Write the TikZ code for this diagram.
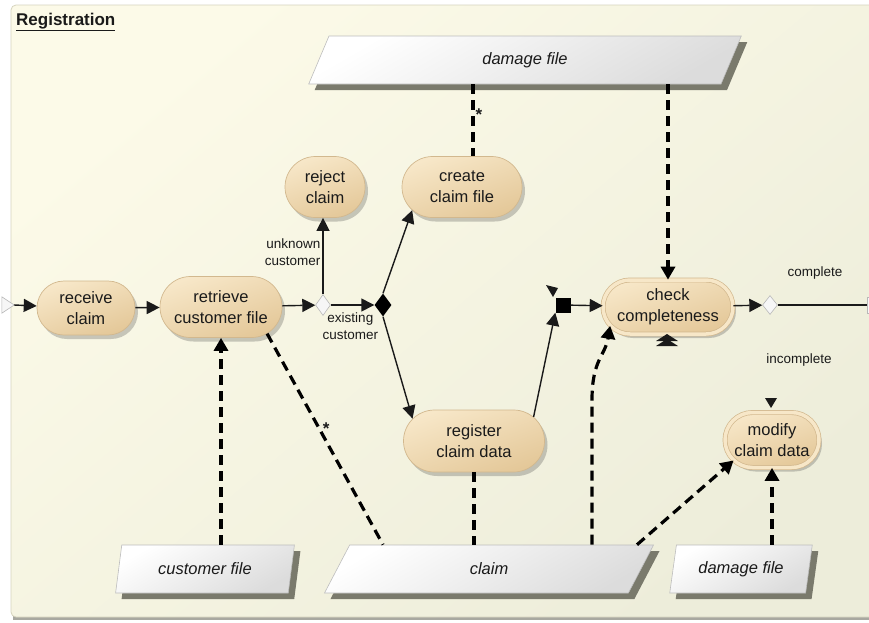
\documentclass[tikz,border=0pt]{standalone}
\usepackage{fontspec}
\setmainfont{Liberation Sans}
\usetikzlibrary{arrows.meta,shapes.geometric,shapes.misc,shadows,calc}

\definecolor{bgA}{HTML}{FCFAE8}
\definecolor{bgB}{HTML}{EDEDDA}
\definecolor{frameline}{HTML}{D6D4BE}
\definecolor{frameshadow}{HTML}{A8A8A0}
\definecolor{actA}{HTML}{F7E7C8}
\definecolor{actB}{HTML}{E4C899}
\definecolor{actline}{HTML}{D2B88E}
\definecolor{dataB}{HTML}{DCDCDC}
\definecolor{dataline}{HTML}{BDBDBD}
\definecolor{datashadow}{HTML}{7A7A6C}
\definecolor{ink}{HTML}{1A1A1A}
\definecolor{gateline}{HTML}{B8B8B8}
\definecolor{gatefill}{HTML}{F6F6F6}

\begin{document}
\begin{tikzpicture}[x=1pt,y=-1pt,
  act/.style={rounded rectangle, draw=actline, line width=0.7pt,
    top color=actA, bottom color=actB, shading angle=20,
    text=ink, font=\fontsize{16.5}{21}\selectfont, align=center, inner sep=0pt,
    drop shadow={shadow xshift=3pt, shadow yshift=-4pt, opacity=0.25, fill=black!80}},
  actdbl/.style={double=actA, double distance=3.5pt},
  data/.style={trapezium, trapezium left angle=74, trapezium right angle=106,
    trapezium stretches=true, draw=dataline, line width=0.6pt,
    top color=white, bottom color=dataB, shading angle=30,
    text=ink, font=\fontsize{16.5}{20}\selectfont\itshape,
    minimum height=48pt, inner sep=0pt,
    drop shadow={shadow xshift=6pt, shadow yshift=-6pt, opacity=1, fill=datashadow}},
  gate/.style={diamond, draw=gateline, fill=gatefill, line width=0.6pt, inner sep=0pt},
  lbl/.style={text=ink, font=\fontsize{13.5}{17}\selectfont, inner sep=1pt},
  starlbl/.style={text=ink, font=\fontsize{17}{17}\selectfont\bfseries, inner sep=1pt},
  flow/.style={draw=ink, line width=1.4pt, -{Triangle[length=13pt,width=13pt]}},
  plainflow/.style={draw=ink, line width=1.4pt},
  obj/.style={draw=black, line width=3.2pt, dash pattern=on 10pt off 6pt},
  objarrow/.style={obj, -{Triangle[length=13pt,width=14pt]}}
]
\useasboundingbox (0,0) rectangle (869,622);
\clip (0,0) rectangle (869,622);

% frame of the partition
\fill[white] (0,0) rectangle (869,622);
\fill[frameshadow] (13,8) rectangle (890,620);
\draw[frameline, line width=0.8pt, top color=bgA, bottom color=bgB, shading angle=40,
  rounded corners=5pt] (11,5) rectangle (890,617);
\node[anchor=base west, text=ink, font=\fontsize{17}{19}\selectfont\bfseries, inner sep=0pt]
  (title) at (16,25) {\underline{Registration}};

% actions
\node[act, minimum width=98pt, minimum height=54pt] (receive) at (86,308) {receive\\claim};
\node[act, minimum width=122pt, minimum height=61pt] (retrieve) at (221,307) {retrieve\\customer file};
\node[act, minimum width=80pt, minimum height=61pt] (reject) at (325,187) {reject\\claim};
\node[act, minimum width=120pt, minimum height=61pt] (create) at (462,187) {create\\claim file};
\node[act, minimum width=141pt, minimum height=62pt] (register) at (474,441) {register\\claim data};
\node[act, actdbl, minimum width=130pt, minimum height=54pt] (check) at (668,307) {check\\completeness};
\node[act, actdbl, minimum width=94pt, minimum height=55pt] (modify) at (772,440) {modify\\claim data};

% object nodes
\node[data, minimum width=434pt] (dmgtop) at (525,60) {damage file};
\node[data, minimum width=180pt] (custfile) at (205,569) {customer file};
\node[data, minimum width=329pt] (claim) at (489,569) {claim};
\node[data, minimum width=143pt] (dmgbot) at (741,569) {damage file};

% control nodes
\node[inner sep=0pt, minimum width=12pt, minimum height=16pt] (start) at (8,305) {};
\filldraw[draw=gateline, fill=gatefill, line width=0.6pt]
  (start.north west) -- (start.east) -- (start.south west) -- cycle;
\node[gate, minimum width=15pt, minimum height=21pt] (d1) at (323,305) {};
\node[diamond, fill=black, inner sep=0pt, minimum width=17pt, minimum height=23pt] (d2) at (383,305) {};
\node[rectangle, fill=black, inner sep=0pt, minimum size=15pt] (join) at (563,305) {};
\node[gate, minimum width=15pt, minimum height=19pt] (d3) at (770,305) {};
\node[draw=gateline, fill=gatefill, inner sep=0pt, minimum width=8pt, minimum height=16pt] (exit) at (871,305) {};

% control flow
\draw[flow] (start.east) -- (receive);
\draw[flow] (receive) -- (retrieve);
\draw[flow] (retrieve) -- (d1);
\draw[flow] (d1) -- (d1 |- reject.south)
  node[lbl, pos=0.55, left=1pt, align=right] (lunknown) {unknown\\customer};
\draw[flow] (d1) -- (d2)
  node[lbl, pos=0.45, below=6pt, align=center] (lexisting) {existing\\customer};
\draw[flow] (d2.north) -- (create.205);
\draw[flow] (d2.south) -- (register.160);
\draw[flow] (register.22) -- (join.south west);
\draw[flow] (join) -- (check);
\draw[flow] (check) -- (d3);
\draw[plainflow] (d3) -- (exit);
\node[lbl] (lcomplete) at (815,273) {complete};
\node[lbl] (lincomplete) at (799,360) {incomplete};

% pending tips of hidden edges
\fill[ink] (765,398) -- (777,398) -- (771,408) -- cycle;
\fill[ink] (656,341) -- (667,334) -- (678,341) -- cycle;
\fill[ink] (656,346) -- (667,339) -- (678,346) -- cycle;
\fill[ink] (546,285) -- (558,288) -- (553,297) -- cycle;

% object flow
\draw[objarrow] (retrieve.south |- custfile.north) -- (retrieve.south);
\draw[obj] (retrieve.-30) -- ($(claim.north)+(-106,0)$)
  node[starlbl, pos=0.45, right=1pt] (star1) {*};
\draw[obj] ($(create.north |- dmgtop.south)+(11,0)$) -- ($(create.north)+(11,0)$)
  node[starlbl, pos=0.42, right=0pt] (star2) {*};
\draw[objarrow] (check.north |- dmgtop.south) -- (check.north);
\draw[obj] (register.south) -- (register.south |- claim.north);
\draw[objarrow] ($(claim.north)+(103,0)$) -- ++(0,-145)
  .. controls +(0,-40) and +(-5,30) .. (check.198);
\draw[objarrow] ($(claim.north)+(148,0)$) -- (modify.208);
\draw[objarrow] (modify.south |- dmgbot.north) -- (modify.south);
\end{tikzpicture}
\end{document}
